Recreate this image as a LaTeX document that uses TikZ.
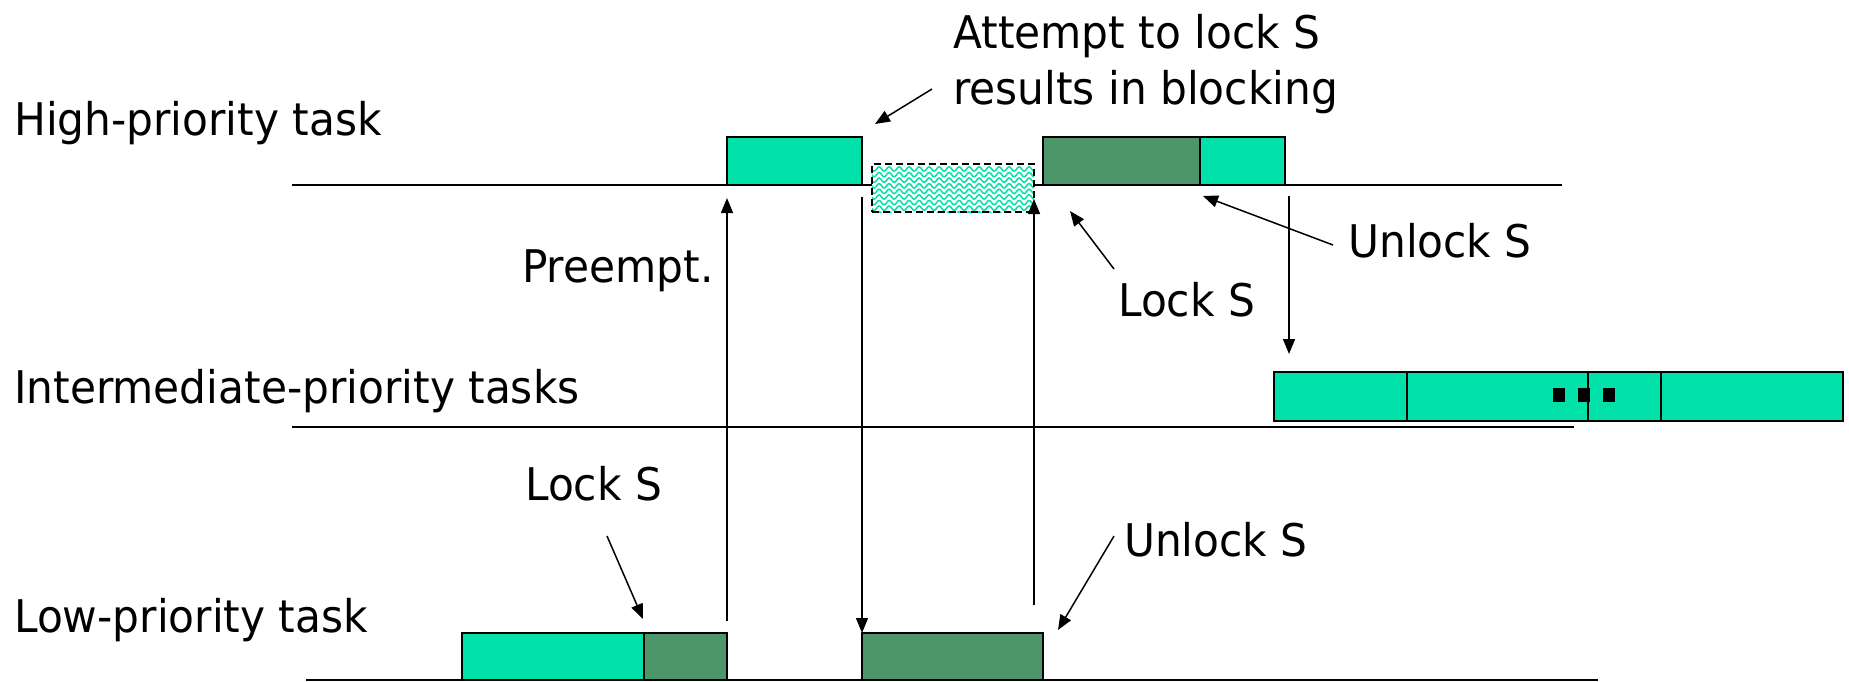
\documentclass[tikz,border=0pt]{standalone}
\usepackage{fontspec}
\setmainfont[FakeStretch=0.94]{DejaVu Sans}
\usetikzlibrary{arrows.meta,decorations.pathmorphing}
\definecolor{lgreen}{RGB}{0,226,170}
\definecolor{dgreen}{RGB}{77,150,106}
\begin{document}
\begin{tikzpicture}[x=1pt,y=-1pt,
  lbl/.style={anchor=base west, inner sep=0pt, font=\fontsize{45}{56}\selectfont, align=left},
  tline/.style={line width=2pt},
  barbox/.style={draw=black, line width=2pt, inner sep=0pt, outer sep=0pt, anchor=north west},
  lbar/.style={barbox, fill=lgreen},
  dbar/.style={barbox, fill=dgreen},
  blkbox/.style={draw=black, dash pattern=on 7pt off 4pt, line width=2.2pt, inner sep=0pt, outer sep=0pt, anchor=north west, fill=white,
    path picture={\foreach \k in {0,...,8} \draw[lgreen, line width=1.5pt, solid, decorate, decoration={snake,segment length=10pt,amplitude=2.2pt}] ([xshift=-6pt, yshift={-5pt-5.6pt*\k}]path picture bounding box.north west) -- ++(180pt,0pt);}},
  arr/.style={line width=1.5pt, -{Triangle[length=15pt,width=12pt]}},
  plain/.style={line width=1.5pt}]
\useasboundingbox (0,0) rectangle (1849,681);

% time lines
\coordinate (hl0) at (292,185); \coordinate (hl1) at (1562,185);
\coordinate (il0) at (292,427); \coordinate (il1) at (1574,427);
\coordinate (ll0) at (306,680); \coordinate (ll1) at (1598,680);
\draw[tline] (hl0) -- (hl1);
\draw[tline] (il0) -- (il1);
\draw[tline] (ll0) -- (ll1);

% high-priority bars
\node[lbar, minimum width=135pt, minimum height=48pt] (h1) at (727,137) {};
\node[blkbox, minimum width=162pt, minimum height=48pt] (blk) at (872,164) {};
\node[dbar, minimum width=157pt, minimum height=48pt] (h2) at (1043,137) {};
\node[lbar, minimum width=85pt, minimum height=48pt] (h3) at (1200,137) {};

% intermediate bars
\node[lbar, minimum width=133pt, minimum height=49pt] (i1) at (1274,372) {};
\node[lbar, minimum width=181pt, minimum height=49pt] (i2) at (1407,372) {};
\node[lbar, minimum width=73pt, minimum height=49pt] (i3) at (1588,372) {};
\node[lbar, minimum width=182pt, minimum height=49pt] (i4) at (1661,372) {};
\fill (1553,388) rectangle (1565,402);
\fill (1578,388) rectangle (1590,402);
\fill (1603,388) rectangle (1615,402);

% low bars
\node[lbar, minimum width=182pt, minimum height=47pt] (l1) at (462,633) {};
\node[dbar, minimum width=83pt, minimum height=47pt] (l2) at (644,633) {};
\node[dbar, minimum width=181pt, minimum height=47pt] (l3) at (862,633) {};

% labels
\node[lbl] (thigh) at (14,135) {High-priority task};
\node[lbl] (tint) at (14,403) {Intermediate-priority tasks};
\node[lbl] (tlow) at (14,632) {Low-priority task};
\node[lbl] (tatt) at (953,104) {Attempt to lock S\\results in blocking};
\node[lbl] (tpre) at (522,282) {Preempt.};
\node[lbl] (tlk1) at (1118,316) {Lock S};
\node[lbl] (tul1) at (1348,257) {Unlock S};
\node[lbl] (tlk2) at (525,500) {Lock S};
\node[lbl] (tul2) at (1124,556) {Unlock S};

% vertical transitions
\draw[arr] ([yshift=12pt]l2.north east) -- ([yshift=-13pt]h1.south west);
\draw[arr] ([yshift=-12pt]h1.south east) -- (l3.north west);
\coordinate (u3s) at (1034,605);
\coordinate (u3e) at (1034,199);
\draw[arr] (u3s) -- (u3e);
\coordinate (d4s) at (1289,196);
\coordinate (d4e) at (1289,354);
\draw[arr] (d4s) -- (d4e);

% label pointers
\coordinate (a1s) at (932,89);   \coordinate (a1e) at (875,124);
\coordinate (a2s) at (1114,269); \coordinate (a2e) at (1070,211);
\coordinate (a3s) at (1333,245); \coordinate (a3e) at (1203,196);
\coordinate (a4s) at (607,536);  \coordinate (a4e) at (643,619);
\coordinate (a5s) at (1114,536); \coordinate (a5e) at (1058,630);
\draw[arr] (a1s) -- (a1e);
\draw[arr] (a2s) -- (a2e);
\draw[arr] (a3s) -- (a3e);
\draw[arr] (a4s) -- (a4e);
\draw[arr] (a5s) -- (a5e);
\end{tikzpicture}
\end{document}
